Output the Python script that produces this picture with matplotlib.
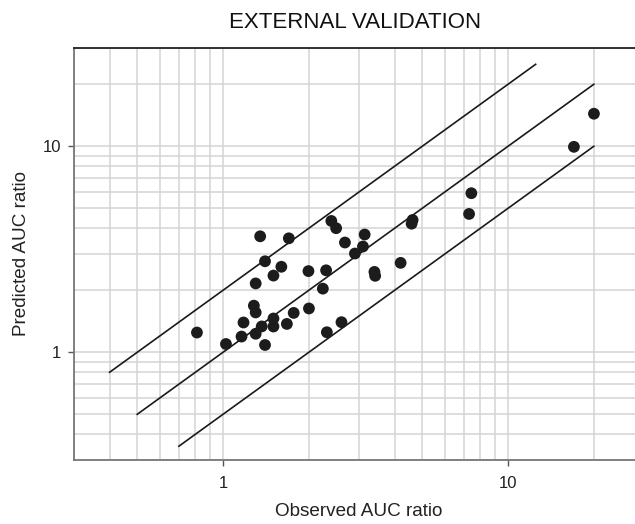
import matplotlib
matplotlib.use("Agg")
import matplotlib.pyplot as plt
from matplotlib.ticker import LogLocator, NullFormatter, FixedLocator, FixedFormatter

plt.rcParams['font.family'] = ['Liberation Sans', 'DejaVu Sans']

observed = [0.810, 1.024, 1.161, 1.180, 1.302, 1.404, 1.367, 1.283, 1.302, 1.302,
            1.350, 1.404, 1.503, 1.602, 1.503, 1.503, 1.675, 1.770, 1.702, 1.994,
            2.002, 2.240, 2.300, 2.314, 2.604, 2.399, 2.494, 2.678, 2.903, 3.097,
            3.140, 3.398, 3.418, 4.199, 4.626, 4.589, 7.436, 7.300, 17.03, 20.02]
predicted = [1.247, 1.097, 1.192, 1.395, 1.230, 1.085, 1.335, 1.684, 1.561, 2.159,
             3.656, 2.766, 2.357, 2.601, 1.459, 1.334, 1.373, 1.553, 3.575, 2.478,
             1.632, 2.037, 2.500, 1.251, 1.400, 4.340, 4.003, 3.411, 3.016, 3.262,
             3.730, 2.456, 2.351, 2.717, 4.388, 4.210, 5.919, 4.694, 9.94, 14.39]

# reference lines: (x range, fold factor)
upper_x = [0.4, 12.5]
upper_fold = 2.0
identity_x = [0.5, 20]
lower_x = [0.7, 20]
lower_fold = 0.5

major_ticks = [1, 10]
major_labels = ["1", "10"]

W, H = 635, 524
fig = plt.figure(figsize=(W / 100, H / 100), dpi=100)
left, right, top, bottom = 74, 644, 48, 460
ax = fig.add_axes([left / W, 1 - bottom / H, (right - left) / W, (bottom - top) / H])

ax.set_xscale('log')
ax.set_yscale('log')
ax.set_xlim(0.3, 30)
ax.set_ylim(0.3, 30)

grid_kw = dict(color='#d4d4d4', linewidth=1.1, zorder=0)
ax.xaxis.set_major_locator(FixedLocator(major_ticks))
ax.xaxis.set_major_formatter(FixedFormatter(major_labels))
ax.yaxis.set_major_locator(FixedLocator(major_ticks))
ax.yaxis.set_major_formatter(FixedFormatter(major_labels))
ax.xaxis.set_minor_locator(LogLocator(base=10, subs=range(2, 10)))
ax.yaxis.set_minor_locator(LogLocator(base=10, subs=range(2, 10)))
ax.xaxis.set_minor_formatter(NullFormatter())
ax.yaxis.set_minor_formatter(NullFormatter())
ax.grid(True, which='both', **grid_kw)
ax.set_axisbelow(True)
ax.tick_params(which='minor', length=0)
ax.tick_params(which='major', length=4.5, width=1.0, color='#555555', labelsize=12,
               labelcolor='#222222')
ax.tick_params(axis='x', which='major', pad=7)
ax.tick_params(axis='y', which='major', pad=5)

for s in ['left', 'bottom']:
    ax.spines[s].set_color('#777777')
    ax.spines[s].set_linewidth(1.3)
ax.spines['top'].set_color('#222222')
ax.spines['top'].set_linewidth(1.3)
ax.spines['right'].set_visible(False)

line_kw = dict(color='#1a1a1a', linewidth=1.2, zorder=2)
ax.plot(upper_x, [v * upper_fold for v in upper_x], **line_kw)
ax.plot(identity_x, identity_x, **line_kw)
ax.plot(lower_x, [v * lower_fold for v in lower_x], **line_kw)

ax.scatter(observed, predicted, s=72, color='#1c1c1c', edgecolors='none', zorder=3)

ax.set_xlabel("Observed AUC ratio", fontsize=13.6, color='#222222', labelpad=9)
ax.set_ylabel("Predicted AUC ratio", fontsize=13.6, color='#222222', labelpad=9)
fig.text(355.5 / W, 1 - 22 / H, "EXTERNAL VALIDATION", fontsize=16, color='#111111',
         ha='center', va='center')

fig.savefig("out.png", dpi=100)
